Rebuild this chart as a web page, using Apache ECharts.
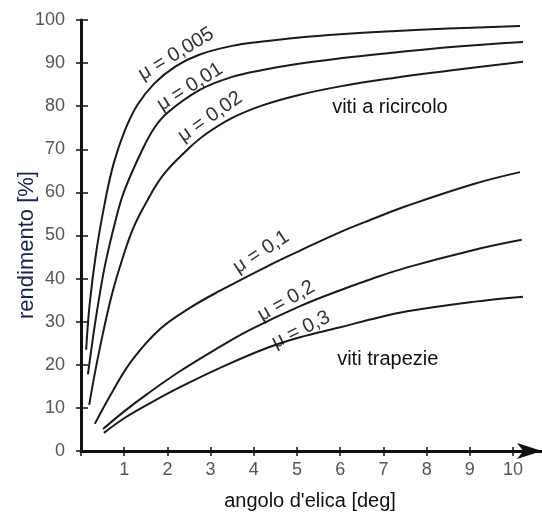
<!DOCTYPE html>
<html>
<head>
<meta charset="utf-8">
<script src="https://cdn.jsdelivr.net/npm/echarts@6/dist/echarts.min.js"></script>
<style>html,body{margin:0;padding:0;background:#fff}#c{width:542px;height:518px}</style>
</head>
<body>
<div id="c"></div>
<script>
// ---- data ----
var xTicks = [0, 1, 2, 3, 4, 5, 6, 7, 8, 9, 10];
var xTickLabels = [1, 2, 3, 4, 5, 6, 7, 8, 9, 10];
var yTicks = [0, 10, 20, 30, 40, 50, 60, 70, 80, 90, 100];
var curveNames = ['μ = 0,005', 'μ = 0,01', 'μ = 0,02', 'μ = 0,1', 'μ = 0,2', 'μ = 0,3'];
var mu0005 = [[0.12,23.5],[0.2,34],[0.35,46],[0.55,57.5],[0.75,66.5],[1.0,74],[1.3,80.2],[1.7,85.3],[2.2,89.3],[2.75,92],[3.5,94],[4.2,95],[5,95.9],[6,96.7],[7.2,97.4],[8.5,98],[10.16,98.6]];
var mu001 = [[0.16,17.8],[0.28,26.5],[0.4,34.3],[0.56,43.3],[0.8,53.5],[1.0,60.3],[1.4,69.5],[1.7,75],[2.0,78.5],[2.75,83.8],[3.5,86.8],[4.2,88.4],[5,89.8],[6,91.1],[7.2,92.4],[8.5,93.7],[10.23,94.9]];
var mu002 = [[0.19,10.7],[0.32,18],[0.51,27.4],[0.72,36.5],[0.95,44.3],[1.2,51.5],[1.5,57.5],[1.9,64],[2.45,69.8],[2.9,73.6],[3.5,77.3],[4.2,80.2],[5,82.5],[6,84.6],[7.2,86.5],[8.5,88.2],[10.23,90.3]];
var mu01 = [[0.32,6.3],[0.74,14],[1.2,21.3],[1.83,28.3],[2.52,33.2],[3.22,37.2],[4.3,42.8],[5.07,46.5],[6.0,50.8],[6.69,53.6],[7.55,56.9],[9.07,61.9],[10.16,64.7]];
var mu02 = [[0.51,5.1],[1.0,9.2],[1.53,13.2],[2.29,18.5],[3.22,24.2],[3.91,28.1],[5.07,33.6],[6.0,37.3],[6.69,39.8],[7.55,42.6],[9.07,46.6],[10.2,49]];
var mu03 = [[0.53,4.2],[1.0,7.6],[1.53,10.7],[2.29,14.8],[3.22,19.3],[4.3,23.9],[5.07,26.4],[6.0,28.7],[6.69,30.5],[7.55,32.4],[9.07,34.6],[10.23,35.8]];
var curves = [mu0005, mu001, mu002, mu01, mu02, mu03];
var regionLabels = ['viti a ricircolo', 'viti trapezie'];
var xName = "angolo d'elica [deg]";
var yName = 'rendimento [%]';

// ---- chart ----
var FONT = '"Liberation Sans", Arial, sans-serif';
var chart = echarts.init(document.getElementById('c'), null, {renderer: 'canvas'});
var axisCol = '#111';
var XMAX = 10.67;
var series = curves.map(function (d, i) {
  return {
    name: curveNames[i], type: 'line', data: d, smooth: 0.4, symbol: 'none',
    lineStyle: {color: '#1a1a1a', width: 2}, xAxisIndex: 0, yAxisIndex: 0, silent: true
  };
});
chart.setOption({
  animation: false,
  backgroundColor: '#fff',
  grid: {left: 81, top: 20, width: 461, height: 431},
  xAxis: [{
    type: 'value', min: 0, max: XMAX, position: 'bottom',
    axisLine: {show: true, onZero: false, lineStyle: {color: axisCol, width: 3}, symbol: ['none', 'arrow'], symbolSize: [12, 25]},
    axisTick: {show: true, length: 5, customValues: xTicks, lineStyle: {color: axisCol, width: 1.5}},
    axisLabel: {show: true, customValues: xTickLabels, margin: 10, color: '#555', fontSize: 18, fontFamily: FONT},
    splitLine: {show: false}
  }, {
    type: 'value', min: 0, max: XMAX, position: 'bottom',
    axisLine: {show: false, onZero: false},
    axisTick: {show: true, inside: true, length: 4, customValues: xTicks, lineStyle: {color: axisCol, width: 1.5}},
    axisLabel: {show: false}, splitLine: {show: false}
  }],
  yAxis: [{
    type: 'value', min: 0, max: 100, position: 'left',
    axisLine: {show: true, onZero: false, lineStyle: {color: axisCol, width: 3}},
    axisTick: {show: true, length: 5, customValues: yTicks, lineStyle: {color: axisCol, width: 1.5}},
    axisLabel: {show: true, customValues: yTicks, margin: 16, color: '#555', fontSize: 18, fontFamily: FONT},
    splitLine: {show: false}
  }, {
    type: 'value', min: 0, max: 100, position: 'left',
    axisLine: {show: false, onZero: false},
    axisTick: {show: true, inside: true, length: 7, customValues: yTicks, lineStyle: {color: axisCol, width: 1.5}},
    axisLabel: {show: false}, splitLine: {show: false}
  }],
  series: series
});

// annotation placement (data coords -> pixels)
function px(x, y) { return chart.convertToPixel({xAxisIndex: 0, yAxisIndex: 0}, [x, y]); }
var deg = Math.PI / 180;
var curveLabelPos = [[2.2, 92.1, 31], [2.52, 84.5, 32], [2.99, 77.5, 35], [4.17, 46.2, 33], [4.75, 34.8, 30], [5.09, 28.1, 26]];
var g = [];
curveLabelPos.forEach(function (p, i) {
  var q = px(p[0], p[1]);
  g.push({type: 'text', x: q[0], y: q[1], rotation: p[2] * deg, silent: true,
    style: {text: curveNames[i], align: 'center', verticalAlign: 'middle', font: '20px ' + FONT, fill: '#333'}});
});
var regionPos = [[7.15, 79.8], [7.1, 21.3]];
regionPos.forEach(function (p, i) {
  var q = px(p[0], p[1]);
  g.push({type: 'text', x: q[0], y: q[1], silent: true,
    style: {text: regionLabels[i], align: 'center', verticalAlign: 'middle', font: '20px ' + FONT, fill: '#111'}});
});
g.push({type: 'text', x: 310, y: 501, silent: true,
  style: {text: xName, align: 'center', verticalAlign: 'middle', font: '20px ' + FONT, fill: '#111'}});
g.push({type: 'text', x: 27, y: 245, rotation: 90 * deg, silent: true,
  style: {text: yName, align: 'center', verticalAlign: 'middle', font: '22px ' + FONT, fill: '#15234f'}});
chart.setOption({graphic: g});
</script>
</body>
</html>
